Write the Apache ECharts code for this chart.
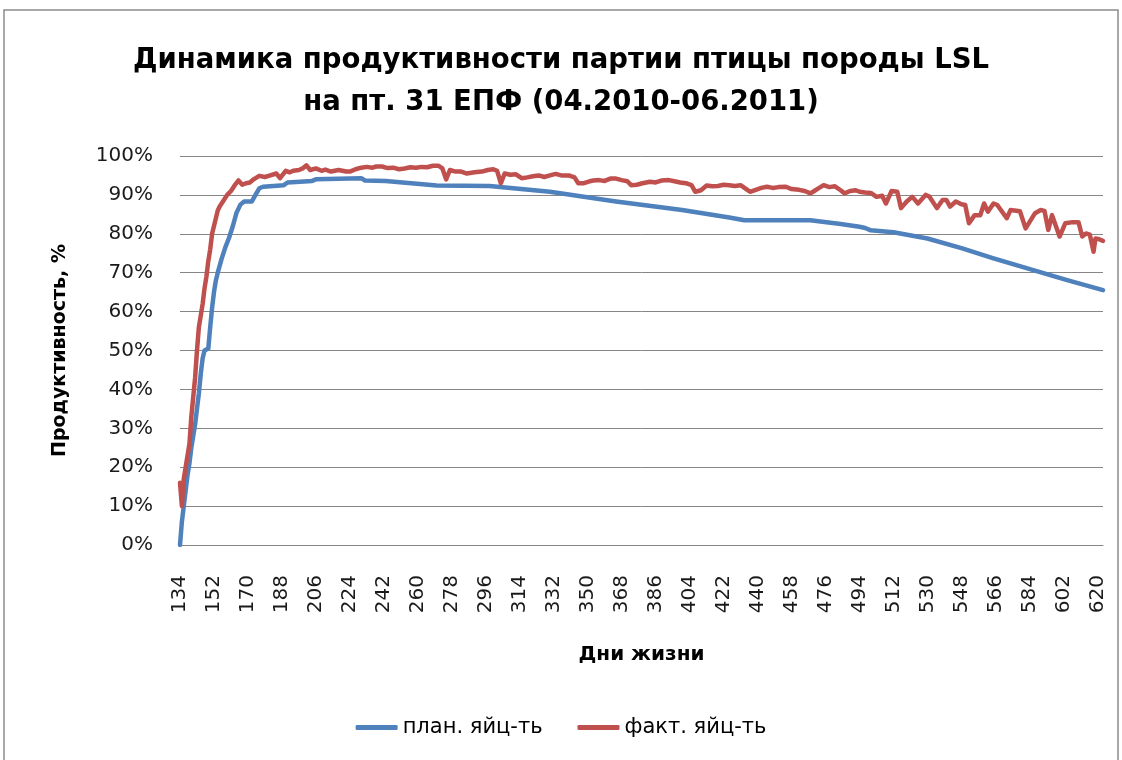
<!DOCTYPE html>
<html>
<head>
<meta charset="utf-8">
<script src="https://cdn.jsdelivr.net/npm/echarts@6/dist/echarts.min.js"></script>
<style>
  html, body { margin: 0; padding: 0; background: #fff; }
  #chart { width: 1122px; height: 760px; }
</style>
</head>
<body>
<div id="chart"></div>
<script>
//--------------------- Data ---------------------------//
const firstDay = 134;   // first day of life on the axis
const lastDay = 623;    // last day of life on the axis
const labelStep = 18;   // one axis label every 18 days

// plan egg production, [day, %]
const planPoints = [
  [134, 0], [135, 6], [136, 10], [137, 14], [138, 18], [139, 21], [140, 25], [141, 28],
  [142, 31], [143, 35], [144, 39], [145, 44], [146, 48], [147, 50], [149, 50.5], [150, 56],
  [151, 61], [152, 65], [153, 68], [154, 70], [156, 73.5], [158, 76.5], [160, 79], [162, 82],
  [164, 85.5], [166, 87.5], [168, 88.3], [172, 88.3], [174, 90], [176, 91.7], [178, 92.1],
  [189, 92.5], [191, 93.2], [204, 93.6], [206, 94], [230, 94.3], [232, 93.7], [243, 93.6],
  [270, 92.4], [298, 92.3], [330, 90.8], [365, 88.3], [400, 86.1], [425, 84.2], [433, 83.5],
  [468, 83.5], [484, 82.5], [494, 81.8], [497, 81.5], [500, 80.9], [512, 80.4], [530, 78.8],
  [548, 76.3], [565, 73.7], [604, 68.1], [623, 65.5]
];

// actual egg production, [day, %]
const factPoints = [
  [134, 16], [135, 10], [136, 17], [137, 20], [138, 20], [139, 26], [140, 33], [141, 38],
  [142, 43], [143, 50], [144, 56], [145, 59], [146, 62], [147, 66], [148, 69], [149, 73],
  [150, 76], [151, 80], [152, 82], [153, 84], [154, 86], [155, 87], [157, 88.5], [159, 90],
  [161, 91], [163, 92.5], [165, 93.7], [167, 92.6], [169, 93], [171, 93.2], [173, 94],
  [176, 94.9], [179, 94.6], [181, 94.9], [185, 95.5], [187, 94.3], [188, 94], [190, 96.2],
  [192, 95.8], [194, 96.2], [197, 96.4], [199, 96.8], [201, 97.6], [203, 96.4], [206, 96.8],
  [209, 96.2], [211, 96.5], [214, 96], [218, 96.4], [222, 96], [224, 96], [227, 96.6],
  [230, 97], [233, 97.2], [236, 97], [238, 97.3], [241, 97.3], [244, 96.9], [247, 97],
  [250, 96.6], [253, 96.8], [256, 97.1], [259, 97], [262, 97.2], [265, 97.1], [268, 97.5],
  [271, 97.5], [273, 96.8], [275, 94], [277, 96.4], [280, 96], [283, 96], [286, 95.5],
  [290, 95.8], [294, 96], [297, 96.4], [300, 96.6], [302, 96.2], [304, 93], [306, 95.5],
  [309, 95.2], [312, 95.3], [315, 94.3], [318, 94.5], [321, 94.8], [324, 95], [327, 94.6],
  [330, 95], [333, 95.4], [336, 95], [340, 95], [343, 94.5], [345, 93], [348, 93],
  [351, 93.5], [353, 93.7], [356, 93.8], [359, 93.6], [362, 94.2], [365, 94.2], [368, 93.8],
  [371, 93.5], [373, 92.5], [376, 92.6], [379, 93], [383, 93.4], [386, 93.2], [389, 93.7],
  [393, 93.8], [396, 93.5], [399, 93.2], [402, 93], [405, 92.5], [407, 90.8], [410, 91.2],
  [413, 92.4], [416, 92.2], [419, 92.3], [422, 92.6], [425, 92.5], [428, 92.3], [431, 92.5],
  [434, 91.5], [436, 90.8], [439, 91.3], [442, 91.8], [445, 92.1], [448, 91.8], [451, 92],
  [455, 92.1], [458, 91.5], [462, 91.3], [465, 91], [468, 90.4], [470, 91], [472, 91.6],
  [475, 92.5], [478, 92], [481, 92.2], [484, 91.2], [486, 90.4], [489, 91], [492, 91.2],
  [494, 90.8], [497, 90.6], [500, 90.5], [503, 89.5], [506, 89.8], [508, 87.8], [511, 91],
  [514, 90.8], [516, 86.6], [519, 88.3], [522, 89.5], [525, 87.8], [529, 90], [531, 89.6],
  [535, 86.6], [538, 88.7], [540, 88.7], [542, 87], [545, 88.3], [548, 87.6], [550, 87.4],
  [552, 82.7], [555, 84.8], [558, 84.8], [560, 87.8], [562, 85.7], [565, 87.8], [567, 87.4],
  [572, 84], [574, 86.1], [579, 85.8], [582, 81.4], [587, 85.3], [590, 86.1], [592, 85.9],
  [594, 81], [596, 84.8], [600, 79.3], [603, 82.7], [607, 83], [610, 83], [612, 79.3],
  [614, 80.1], [616, 79.8], [618, 75.4], [619, 78.8], [621, 78.6], [623, 78.2]
];

const seriesNames = ['план. яйц-ть', 'факт. яйц-ть'];
const seriesColors = ['#4f81bd', '#c0504d'];
const titleLines = ['Динамика продуктивности партии птицы породы LSL', 'на пт. 31 ЕПФ (04.2010-06.2011)'];
const yAxisTitle = 'Продуктивность, %';
const xAxisTitle = 'Дни жизни';

//--------------------- Chart ---------------------------//
const font = 'DejaVu Sans';
// x is counted from the first day so the 18-day ticks land on 134, 152, ...
const toAxis = points => points.map(p => [p[0] - firstDay, p[1]]);

const chart = echarts.init(document.getElementById('chart'), null, { renderer: 'canvas' });

const option = {
  animation: false,
  textStyle: { fontFamily: font },
  title: {
    text: titleLines.join('\n'),
    left: 'center',
    top: 35,
    textStyle: { fontFamily: font, fontSize: 27.5, fontWeight: 'bold', color: '#000', lineHeight: 42 }
  },
  graphic: [{
    type: 'rect',
    shape: { x: 4, y: 10, width: 1114, height: 800 },
    style: { fill: 'none', stroke: '#8c8c8c', lineWidth: 1.5 },
    silent: true
  }],
  legend: {
    data: seriesNames,
    bottom: 17,
    left: 'center',
    icon: 'roundRect',
    itemWidth: 42,
    itemHeight: 5,
    itemGap: 35,
    textStyle: { fontFamily: font, fontSize: 21, color: '#000' }
  },
  grid: { left: 180, right: 19, top: 156, bottom: 215, containLabel: false },
  xAxis: {
    type: 'value',
    min: 0,
    max: lastDay - firstDay,
    interval: labelStep,
    name: xAxisTitle,
    nameLocation: 'middle',
    nameGap: 100,
    nameTextStyle: { fontFamily: font, fontSize: 20, fontWeight: 'bold', color: '#000' },
    axisLine: { show: true, lineStyle: { color: '#868686', width: 1 } },
    axisTick: { show: false },
    splitLine: { show: false },
    axisLabel: {
      rotate: 90,
      margin: 30,
      showMaxLabel: false,
      fontSize: 20,
      color: '#1a1a1a',
      formatter: v => (v % labelStep === 0 ? String(v + firstDay) : '')
    }
  },
  yAxis: {
    type: 'value',
    min: 0,
    max: 100,
    interval: 10,
    name: yAxisTitle,
    nameLocation: 'middle',
    nameGap: 110,
    nameTextStyle: { fontFamily: font, fontSize: 19, fontWeight: 'bold', color: '#000' },
    axisLine: { show: false },
    axisTick: { show: false },
    splitLine: { lineStyle: { color: '#868686', width: 1 } },
    axisLabel: { margin: 27, fontSize: 20, color: '#1a1a1a', formatter: '{value}%' }
  },
  series: [
    {
      name: seriesNames[0],
      type: 'line',
      data: toAxis(planPoints),
      symbol: 'none',
      color: seriesColors[0],
      lineStyle: { width: 4.5, color: seriesColors[0], join: 'round', cap: 'round' }
    },
    {
      name: seriesNames[1],
      type: 'line',
      data: toAxis(factPoints),
      symbol: 'none',
      color: seriesColors[1],
      lineStyle: { width: 4.5, color: seriesColors[1], join: 'round', cap: 'round' }
    }
  ]
};
chart.setOption(option);
</script>
</body>
</html>
